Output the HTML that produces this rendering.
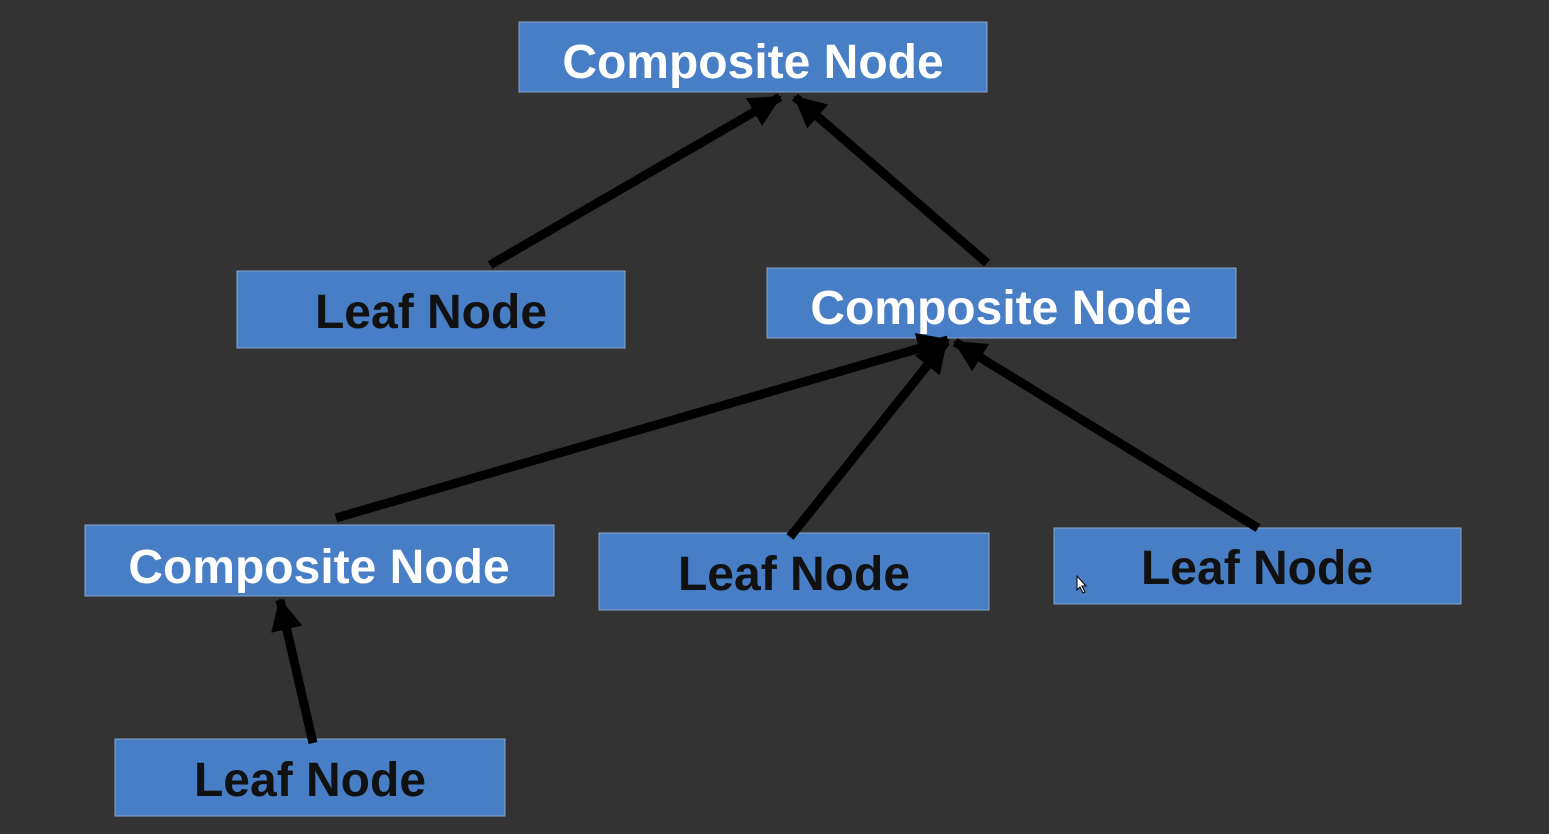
<!DOCTYPE html>
<html><head><meta charset="utf-8"><style>
html,body{margin:0;padding:0;background:#333333;}
svg{display:block;}
text{font-family:"Liberation Sans",sans-serif;font-weight:bold;font-size:48px;text-anchor:middle;}
</style></head><body>
<svg width="1549" height="834" viewBox="0 0 1549 834" xmlns="http://www.w3.org/2000/svg">
<defs>
<marker id="a" markerUnits="userSpaceOnUse" markerWidth="34" markerHeight="32" refX="30" refY="16" orient="auto">
<path d="M0,0 L32,16 L0,32 Z" fill="#000"/>
</marker>
</defs>
<rect width="1549" height="834" fill="#333333"/>
<g fill="#477ec6" stroke="#8aa6cc" stroke-width="1">
<rect x="519" y="22" width="468" height="70"/>
<rect x="237" y="271" width="388" height="77"/>
<rect x="767" y="268" width="469" height="70"/>
<rect x="85" y="525" width="469" height="71"/>
<rect x="599" y="533" width="390" height="77"/>
<rect x="1054" y="528" width="407" height="76"/>
<rect x="115" y="739" width="390" height="77"/>
</g>
<g stroke="#000" stroke-width="9" fill="none" marker-end="url(#a)">
<line x1="490" y1="265" x2="780" y2="97"/>
<line x1="987" y1="263" x2="795" y2="97"/>
<line x1="336" y1="518" x2="948" y2="340"/>
<line x1="790" y1="537" x2="946" y2="342"/>
<line x1="1258" y1="528" x2="955" y2="342"/>
<line x1="313" y1="743" x2="280" y2="600"/>
</g>
<text x="753" y="78" fill="#fff">Composite Node</text>
<text x="431" y="328" fill="#111">Leaf Node</text>
<text x="1001" y="324" fill="#fff">Composite Node</text>
<text x="319" y="583" fill="#fff">Composite Node</text>
<text x="794" y="590" fill="#111">Leaf Node</text>
<text x="1257" y="584" fill="#111">Leaf Node</text>
<text x="310" y="796" fill="#111">Leaf Node</text>
<path d="M1077,576 L1077,590 L1080,587 L1083,593 L1085,592 L1082,586 L1086,586 Z" fill="#fff" stroke="#000" stroke-width="1"/>
</svg>
</body></html>
